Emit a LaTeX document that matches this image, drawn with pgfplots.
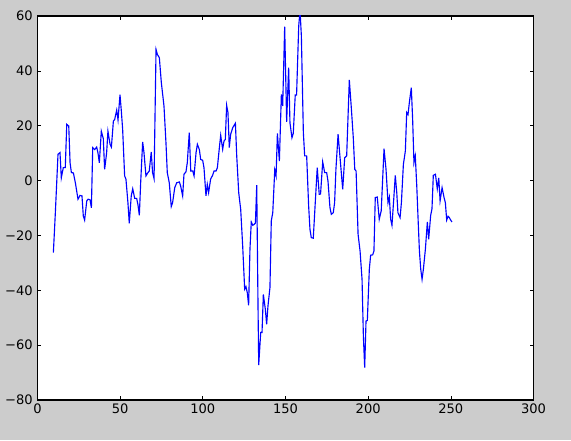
\documentclass[border=0pt]{standalone}
\usepackage{pgfplots}
\pgfplotsset{compat=1.18}
\usepackage{fontspec}
\setmainfont{DejaVu Sans}
\definecolor{figbg}{RGB}{204,204,204}
\begin{document}
\begin{tikzpicture}
\fill[figbg] (-28.125pt,-30pt) rectangle (400.125pt,300pt);
\useasboundingbox (-28.125pt,-30pt) rectangle (400.125pt,300pt);
\begin{axis}[
  at={(0,0)}, anchor=south west,
  scale only axis, width=372pt, height=288pt,
  xmin=0, xmax=300, ymin=-80, ymax=60,
  axis background/.style={fill=white},
  axis line style={line width=0.8pt},
  xtick={0,50,...,300},
  ytick={-80,-60,...,60},
  yticklabels={−80,−60,−40,−20,0,20,40,60},
  minor tick num=0,
  tick align=inside,
  major tick length=3pt,
  tick style={black, line width=0.5pt},
  ticklabel style={font=\fontsize{9.8}{12}\selectfont},
  xticklabel style={yshift=0.5pt},
  /pgf/number format/assume math mode=true,
  clip=true,
]
\addplot[blue, line width=0.85pt, mark=none] coordinates {
(9.6,-26.3) (10.8,-11.7) (12.4,9.6) (13.6,10.2) (14.4,1.0) (15.6,4.7) (16.8,4.7) (17.7,20.5) (18.9,19.9) (19.7,6.5) (20.5,2.9) (21.7,2.8) (22.9,-0.8) (24.5,-6.8) (25.7,-5.4) (26.9,-5.6) (27.7,-12.9) (28.5,-14.4) (29.8,-7.4) (30.6,-6.8) (31.8,-7.0) (32.6,-9.9) (33.4,12.0) (34.6,11.3) (35.8,12.2) (36.6,10.0) (37.4,6.5) (38.6,18.0) (39.8,15.3) (40.6,4.1) (41.8,10.0) (42.6,18.0) (43.9,13.2) (44.7,12.2) (45.9,21.7) (46.7,22.3) (47.9,25.7) (48.7,22.1) (49.9,31.3) (50.7,25.4) (51.5,18.7) (52.7,1.7) (53.5,0.5) (54.7,-8.1) (55.5,-15.6) (56.7,-5.6) (57.6,-3) (58.8,-6.5) (60,-6.5) (60.8,-9) (61.6,-12.7) (62.4,-0.8) (63.6,14.1) (64.4,10.2) (65.6,1.7) (66.8,2.9) (67.6,3.5) (68.8,10.4) (69.6,2.9) (70.5,0.7) (71.7,47.8) (72.5,46.0) (73.7,44.8) (74.9,35.7) (76.5,27.2) (77.7,13.8) (78.5,2.9) (79.7,-0.8) (80.9,-9.5) (81.7,-8.1) (83,-2.6) (84.2,-0.8) (85.8,-0.5) (86.6,-2) (87.8,-5.6) (88.6,2.3) (89.8,3.2) (90.6,6.5) (91.8,17.5) (92.7,3.5) (93.9,3.5) (94.7,1.7) (95.9,10.2) (96.7,13.2) (97.9,11.3) (98.7,7.7) (99.9,7.4) (100.7,4.7) (101.9,-5.6) (102.7,-1.4) (103.5,-4.4) (104.7,0.5) (105.9,1.9) (106.8,3.5) (108,3.5) (108.8,4.7) (110,12) (110.8,16.5) (112,11.4) (112.8,14.4) (113.6,15) (114.4,27.4) (115.2,24.8) (116,12) (116.8,16.8) (118.1,19.3) (119.7,20.9) (120.5,9) (121.7,-4.4) (122.9,-10.5) (124.1,-23.8) (125.3,-39.6) (126.1,-38.7) (126.9,-40.9) (127.7,-45.5) (128.5,-25.1) (129.3,-15.1) (130.2,-16.3) (131,-16) (131.8,-15.5) (132.6,-1.7) (133.4,-46.9) (133.8,-67.3) (135,-55.4) (135.8,-55.4) (136.6,-41.5) (137.8,-46.9) (138.6,-52.4) (139.4,-45.7) (140.6,-39) (141.4,-14.7) (142.3,-11.7) (143.5,3.9) (144.3,1.7) (145.1,17.2) (146.3,7.1) (147.5,31.4) (148.3,27.2) (149.5,56.1) (150.7,21.4) (151.9,41.2) (152.7,21.1) (153.9,15.6) (154.7,17.2) (155.9,31.2) (156.7,31.2) (158,56.4) (158.8,62) (159.6,52.7) (160.8,17.5) (161.6,9) (162.8,9) (164,-9.3) (164.8,-17.8) (165.6,-20.8) (166.8,-21) (168,-8.1) (169.2,4.7) (170.4,-5) (171.2,-4.9) (172.5,6.8) (173.7,2.9) (174.9,2.9) (175.7,-0.2) (176.9,-9.9) (177.7,-12.3) (178.9,-11.7) (179.7,-8.1) (180.5,4.1) (181.8,16.9) (183,8.3) (184.6,-3.2) (185.8,8.3) (187,9) (188.6,36.7) (189.8,26.6) (191,15.6) (191.9,4.1) (192.7,3.5) (193.9,-19.6) (195.1,-25.7) (196.3,-36) (197.1,-56.7) (197.9,-68.2) (198.7,-51.2) (199.5,-51) (200.7,-32.3) (201.5,-27.2) (202.7,-27.1) (203.5,-25.7) (204.3,-6.2) (205.5,-6) (206.7,-14.1) (207.9,-11) (209.6,11.6) (210.8,4.1) (212,-8.1) (212.8,-6) (213.6,-14.1) (214.4,-16.3) (215.6,-5.6) (216.4,1.9) (217.3,-4.4) (218,-11.7) (219.3,-13.5) (220.1,-8.1) (221.3,5.9) (222.5,10.8) (223.3,24.8) (224.1,24) (224.9,28.4) (226.1,33.9) (226.9,22.3) (227.7,6.5) (228.5,9) (229.4,-2) (230.2,-14.1) (231,-25.7) (231.8,-32.3) (232.6,-36) (233.4,-32.3) (234.6,-25.1) (235.8,-15.1) (236.6,-21.4) (237.8,-12.7) (238.6,-10.3) (239.4,1.9) (240.7,2.3) (241.8,-3) (242.7,1) (243.5,-7.4) (244.7,-2.6) (245.9,-6.2) (246.7,-8.1) (247.5,-14.4) (248.3,-13) (249.1,-13.5) (249.9,-14.4) (250.7,-15.1)
};
\end{axis}
\end{tikzpicture}
\end{document}
